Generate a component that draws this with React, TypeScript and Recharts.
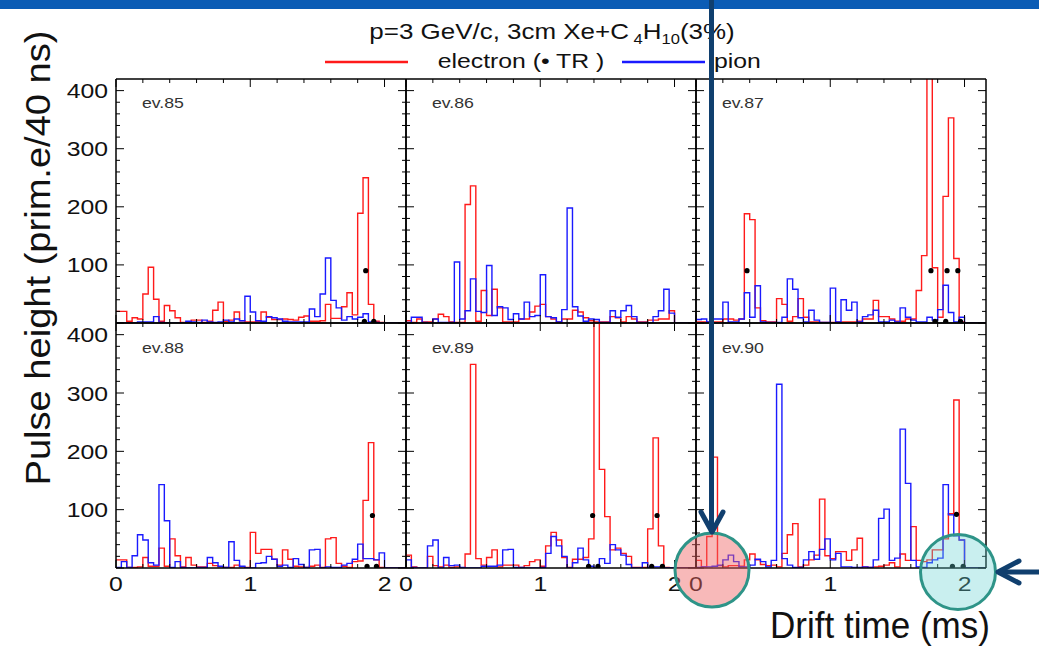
import React from 'react';
import { ComposedChart, Line, Scatter, XAxis, YAxis } from 'recharts';

// histogram binning: 40 ns bins, drift time in microseconds
const BIN_WIDTH = 0.04;
const T_MAX = 2.16;
const Y_MAX = 420;
const X_TICKS = [0, 0.2, 0.4, 0.6, 0.8, 1, 1.2, 1.4, 1.6, 1.8, 2];
const Y_TICKS = [0, 20, 40, 60, 80, 100, 120, 140, 160, 180, 200, 220, 240, 260, 280, 300, 320, 340, 360, 380, 400];

// ev.85
const ev85Electron = [20, 20, 3, 9, 7, 50, 96, 41, 3, 30, 21, 9, 1, 1, 5, 5, 1, 3, 22, 36, 3, 5, 19, 4, 2, 2, 3, 19, 10, 6, 6, 7, 6, 5, 10, 12, 3, 3, 4, 32, 8, 8, 28, 52, 14, 189, 250, 32, 3, 1, 0, 0, 0, 0];
const ev85Pion = [0, 0, 0, 0, 2, 2, 2, 11, 1, 0, 0, 0, 0, 3, 2, 1, 5, 2, 1, 2, 5, 2, 7, 4, 46, 19, 4, 3, 11, 9, 7, 3, 2, 2, 2, 2, 24, 11, 50, 112, 39, 26, 5, 11, 7, 10, 16, 2, 1, 0, 0, 0, 0, 0];
const ev85Tr = [{ t: 1.86, v: 90 }, { t: 1.85, v: 3 }, { t: 1.92, v: 3 }];

// ev.86
const ev86Electron = [4, 1, 7, 2, 2, 7, 15, 11, 2, 1, 1, 204, 236, 3, 56, 13, 58, 26, 2, 2, 2, 7, 7, 19, 29, 32, 11, 7, 2, 7, 7, 22, 19, 9, 4, 2, 2, 2, 11, 9, 2, 11, 7, 2, 2, 5, 5, 7, 7, 21, 0, 0, 0, 0];
const ev86Pion = [1, 10, 10, 1, 0, 7, 1, 1, 1, 105, 7, 21, 76, 20, 18, 99, 13, 28, 26, 6, 16, 7, 36, 11, 13, 83, 11, 9, 2, 23, 198, 28, 12, 3, 7, 6, 1, 1, 21, 10, 21, 30, 11, 1, 1, 0, 11, 21, 58, 17, 0, 0, 0, 0];
const ev86Tr: { t: number; v: number }[] = [];

// ev.87
const ev87Electron = [2, 2, 2, 2, 2, 7, 7, 5, 7, 188, 178, 26, 4, 2, 2, 42, 32, 3, 11, 42, 10, 2, 2, 1, 1, 1, 2, 2, 2, 2, 3, 7, 7, 39, 11, 11, 7, 3, 3, 7, 7, 56, 116, 520, 95, 10, 218, 353, 111, 2, 0, 0, 0, 0];
const ev87Pion = [6, 7, 2, 7, 7, 36, 2, 2, 7, 52, 10, 64, 2, 1, 1, 1, 10, 76, 58, 9, 2, 22, 5, 1, 1, 60, 2, 40, 22, 36, 2, 11, 14, 22, 2, 2, 5, 2, 26, 10, 5, 2, 2, 10, 5, 23, 65, 18, 2, 10, 0, 0, 0, 0];
const ev87Tr = [{ t: 0.38, v: 90 }, { t: 1.75, v: 90 }, { t: 1.87, v: 90 }, { t: 1.95, v: 90 }, { t: 1.78, v: 3 }, { t: 1.86, v: 3 }, { t: 1.97, v: 3 }];

// ev.88
const ev88Electron = [14, 14, 1, 1, 2, 18, 3, 3, 34, 3, 50, 21, 2, 18, 5, 2, 2, 8, 4, 2, 1, 1, 5, 2, 1, 61, 25, 32, 32, 15, 5, 31, 15, 3, 2, 1, 3, 5, 1, 50, 52, 8, 3, 1, 11, 12, 116, 215, 14, 1, 0, 0, 0, 0];
const ev88Pion = [1, 11, 1, 21, 57, 48, 9, 5, 143, 81, 1, 11, 1, 0, 0, 1, 1, 18, 9, 3, 1, 45, 13, 3, 0, 0, 8, 9, 20, 15, 3, 5, 1, 16, 6, 1, 31, 32, 0, 2, 1, 1, 5, 8, 15, 41, 16, 16, 14, 26, 0, 0, 0, 0];
const ev88Tr = [{ t: 1.91, v: 90 }, { t: 1.87, v: 3 }, { t: 1.94, v: 3 }];

// ev.89
const ev89Electron = [22, 2, 0, 0, 20, 4, 2, 5, 1, 2, 0, 24, 349, 16, 5, 18, 31, 2, 5, 5, 5, 1, 4, 11, 14, 3, 38, 61, 48, 18, 1, 15, 15, 18, 50, 560, 169, 88, 31, 34, 25, 20, 1, 1, 1, 67, 223, 38, 1, 0, 0, 0, 0, 0];
const ev89Pion = [14, 1, 0, 0, 38, 48, 0, 18, 4, 5, 1, 0, 0, 0, 3, 3, 3, 5, 31, 32, 1, 1, 0, 0, 0, 1, 25, 54, 38, 20, 0, 9, 34, 14, 3, 0, 16, 8, 40, 31, 22, 6, 0, 0, 9, 1, 2, 2, 0, 0, 0, 0, 0, 0];
const ev89Tr = [{ t: 1.39, v: 90 }, { t: 1.87, v: 90 }, { t: 1.36, v: 3 }, { t: 1.43, v: 3 }, { t: 1.83, v: 3 }, { t: 1.91, v: 3 }];

// ev.90
const ev90Electron = [13, 2, 54, 190, 4, 2, 4, 4, 3, 14, 24, 14, 6, 4, 5, 2, 25, 57, 76, 2, 5, 14, 22, 118, 21, 16, 28, 28, 13, 31, 51, 2, 1, 2, 3, 5, 9, 2, 24, 13, 71, 13, 11, 14, 31, 31, 50, 93, 288, 48, 0, 0, 0, 0];
const ev90Pion = [1, 2, 2, 3, 5, 14, 22, 11, 2, 2, 5, 15, 11, 2, 13, 315, 16, 5, 1, 1, 14, 28, 15, 32, 50, 14, 25, 2, 2, 1, 1, 2, 1, 14, 85, 101, 13, 17, 238, 145, 13, 2, 1, 9, 14, 17, 143, 91, 55, 48, 0, 0, 0, 0];
const ev90Tr = [{ t: 1.94, v: 92 }, { t: 1.91, v: 3 }, { t: 1.99, v: 3 }];

const EVENTS = [
  { name: 'ev.85', electron: ev85Electron, pion: ev85Pion, tr: ev85Tr },
  { name: 'ev.86', electron: ev86Electron, pion: ev86Pion, tr: ev86Tr },
  { name: 'ev.87', electron: ev87Electron, pion: ev87Pion, tr: ev87Tr },
  { name: 'ev.88', electron: ev88Electron, pion: ev88Pion, tr: ev88Tr },
  { name: 'ev.89', electron: ev89Electron, pion: ev89Pion, tr: ev89Tr },
  { name: 'ev.90', electron: ev90Electron, pion: ev90Pion, tr: ev90Tr },
];

// layout of the 2x3 frame grid
const PANEL_LEFT = 116;
const PANEL_W = 290;
const ROW_TOP = [79, 323];
const ROW_H = [244, 245];
// space around each frame; every axis takes 1px of it
const M = { top: 6, right: 6, bottom: 34, left: 56 };
const AXIS = 1;

const FONT = '"Liberation Sans", Arial, Helvetica, sans-serif';
const STRETCH = 1.18; // the slide is a bit wider than tall
const NAVY = '#103f6e';
const TEAL = '#2e9488';

const isMajor = (v: number, step: number) => Math.abs(v / step - Math.round(v / step)) < 1e-6;

// one row per bin edge, plus the closing edge so stepAfter reaches the frame
function toTable(electron: number[], pion: number[]) {
  const rows = electron.map((e, i) => ({ t: i * BIN_WIDTH, e, p: pion[i] }));
  rows.push({ t: T_MAX, e: electron[electron.length - 1], p: pion[pion.length - 1] });
  return rows;
}

const tickText = (x: number, y: number, anchor: string, label: string) => (
  <text
    transform={`translate(${x},${y}) scale(${STRETCH},1)`}
    textAnchor={anchor}
    fontSize={21}
    fontFamily={FONT}
    fill="#111"
  >
    {label}
  </text>
);

function Panel({ row, col, ev }: { row: number; col: number; ev: (typeof EVENTS)[number] }) {
  const data = toTable(ev.electron, ev.pion);
  const h = ROW_H[row];
  const showX = row === 1;
  const showY = col === 0;
  const frame = { stroke: '#000', strokeWidth: 1.5 };

  const bottomTick = (p: any) => {
    const major = isMajor(p.payload.value, 1);
    return (
      <g>
        <line x1={p.x} y1={p.y} x2={p.x} y2={p.y - (major ? 8 : 4)} stroke="#000" />
        {showX && major && tickText(p.x, p.y + 23, 'middle', String(p.payload.value))}
      </g>
    );
  };
  const topTick = (p: any) => {
    const major = isMajor(p.payload.value, 1);
    return <line x1={p.x} y1={p.y} x2={p.x} y2={p.y + (major ? 8 : 4)} stroke="#000" />;
  };
  const leftTick = (p: any) => {
    const v = p.payload.value;
    const major = isMajor(v, 100);
    return (
      <g>
        <line x1={p.x} y1={p.y} x2={p.x + (major ? 8 : 4)} y2={p.y} stroke="#000" />
        {showY && major && v > 0 && tickText(p.x - 8, p.y + 7.5, 'end', String(v))}
      </g>
    );
  };
  const rightTick = (p: any) => {
    const major = isMajor(p.payload.value, 100);
    return <line x1={p.x} y1={p.y} x2={p.x - (major ? 8 : 4)} y2={p.y} stroke="#000" />;
  };

  const margin = {
    top: M.top - AXIS,
    right: M.right - AXIS,
    bottom: M.bottom - AXIS,
    left: M.left - AXIS,
  };

  return (
    <div
      style={{
        position: 'absolute',
        left: PANEL_LEFT + col * PANEL_W - M.left,
        top: ROW_TOP[row] - M.top,
      }}
    >
      <ComposedChart
        width={M.left + PANEL_W + M.right}
        height={M.top + h + M.bottom}
        data={data}
        margin={margin}
      >
        <XAxis xAxisId="b" dataKey="t" type="number" domain={[0, T_MAX]} allowDataOverflow
          ticks={X_TICKS} interval={0} height={AXIS} tickSize={0} tickMargin={0} tickLine={false}
          axisLine={frame} tick={bottomTick} />
        <XAxis xAxisId="t" orientation="top" dataKey="t" type="number" domain={[0, T_MAX]} allowDataOverflow
          ticks={X_TICKS} interval={0} height={AXIS} tickSize={0} tickMargin={0} tickLine={false}
          axisLine={frame} tick={topTick} />
        <YAxis yAxisId="l" type="number" domain={[0, Y_MAX]} allowDataOverflow
          ticks={Y_TICKS} interval={0} width={AXIS} tickSize={0} tickMargin={0} tickLine={false}
          axisLine={frame} tick={leftTick} />
        <YAxis yAxisId="r" orientation="right" type="number" domain={[0, Y_MAX]} allowDataOverflow
          ticks={Y_TICKS} interval={0} width={AXIS} tickSize={0} tickMargin={0} tickLine={false}
          axisLine={frame} tick={rightTick} />
        <Line xAxisId="b" yAxisId="l" type="stepAfter" dataKey="e" stroke="#ff1a1a"
          strokeWidth={1.4} dot={false} isAnimationActive={false} />
        <Line xAxisId="b" yAxisId="l" type="stepAfter" dataKey="p" stroke="#1a1aff"
          strokeWidth={1.4} dot={false} isAnimationActive={false} />
        <Scatter xAxisId="b" yAxisId="l" data={ev.tr} dataKey="v" fill="#000" isAnimationActive={false}
          shape={(p: any) => <circle cx={p.cx} cy={p.cy} r={2.6} fill="#000" />} />
      </ComposedChart>
      <svg style={{ position: 'absolute', left: M.left, top: M.top }} width={PANEL_W} height={h}>
        <text
          transform={`translate(26,${row === 0 ? 29 : 30}) scale(${STRETCH},1)`}
          fontSize={15}
          fontFamily={FONT}
          fill="#333"
        >
          {ev.name}
        </text>
      </svg>
    </div>
  );
}

export default function App() {
  return (
    <div
      style={{
        position: 'absolute',
        left: 0,
        top: 0,
        width: 1039,
        height: 671,
        background: '#fff',
        overflow: 'hidden',
      }}
    >
      {EVENTS.map((ev, i) => (
        <Panel key={ev.name} row={Math.floor(i / 3)} col={i % 3} ev={ev} />
      ))}
      <svg
        width={1039}
        height={671}
        style={{ position: 'absolute', left: 0, top: 0, pointerEvents: 'none' }}
        fontFamily={FONT}
      >
        <rect x={0} y={0} width={1039} height={9} fill="#0b5cb5" />

        {/* title */}
        <g transform={`translate(552,39) scale(${STRETCH},1)`}>
          <text textAnchor="middle" fontSize={22} fill="#111">
            p=3 GeV/c, 3cm Xe+C
            <tspan dx={4} dy={5} fontSize={14}>4</tspan>
            <tspan dy={-5}>H</tspan>
            <tspan dy={5} fontSize={14}>10</tspan>
            <tspan dy={-5}>(3%)</tspan>
          </text>
        </g>

        {/* legend */}
        <line x1={325} y1={62} x2={408} y2={62} stroke="#ff1a1a" strokeWidth={2.5} />
        <g transform={`translate(521,68) scale(${STRETCH},1)`}>
          <text textAnchor="middle" fontSize={21} fill="#111">electron (• TR )</text>
        </g>
        <line x1={622} y1={62} x2={705} y2={62} stroke="#1a1aff" strokeWidth={2.5} />
        <g transform={`translate(714,68) scale(${STRETCH},1)`}>
          <text fontSize={21} fill="#111">pion</text>
        </g>

        {/* axis titles */}
        <text
          transform="translate(50,258) rotate(-90)"
          textAnchor="middle"
          fontSize={35}
          textLength={455}
          lengthAdjust="spacingAndGlyphs"
          fill="#111"
        >
          Pulse height (prim.e/40 ns)
        </text>
        <text x={770} y={638} fontSize={36} textLength={220} lengthAdjust="spacingAndGlyphs" fill="#111">
          Drift time (ms)
        </text>

        {/* highlight circles */}
        <circle cx={712} cy={570} r={37} fill="rgba(240,100,100,0.45)" stroke={TEAL} strokeWidth={3} />
        <circle cx={958} cy={572} r={37.5} fill="rgba(100,210,210,0.35)" stroke={TEAL} strokeWidth={3} />

        {/* arrows */}
        <line x1={711.5} y1={0} x2={711.5} y2={531} stroke={NAVY} strokeWidth={5} />
        <polyline points="701,512 712,532 723,512" fill="none" stroke={NAVY} strokeWidth={5} strokeLinecap="round" strokeLinejoin="round" />
        <line x1={999} y1={572} x2={1039} y2={572} stroke={NAVY} strokeWidth={5} />
        <polyline points="1019,561 998,572 1019,583" fill="none" stroke={NAVY} strokeWidth={5} strokeLinecap="round" strokeLinejoin="round" />
      </svg>
    </div>
  );
}
